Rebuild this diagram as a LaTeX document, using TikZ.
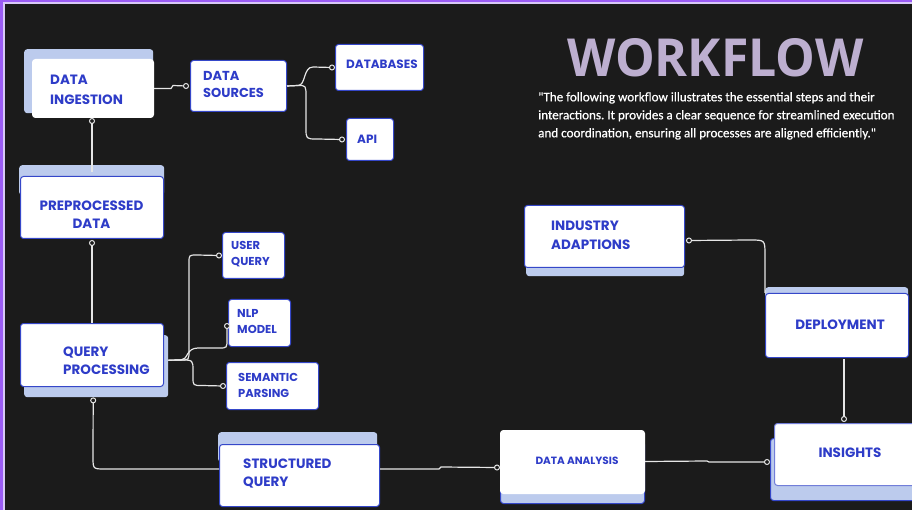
\documentclass[tikz,border=0pt]{standalone}
\usepackage{fontspec}
\usepackage{graphicx}
\usetikzlibrary{arrows.meta,calc}
\newfontfamily\boxfont{Poppins}
\newfontfamily\titlefont{Open Sans}[BoldFont={* Bold}]
\newfontfamily\parafont{Carlito}[FakeBold=0.6]
\frenchspacing
\definecolor{bg}{HTML}{1B1B1B}
\definecolor{frame}{HTML}{9B5CF5}
\definecolor{framelight}{HTML}{D8C8F8}
\definecolor{boxblue}{HTML}{3547C9}
\definecolor{txtblue}{HTML}{2E3CC8}
\definecolor{shade}{HTML}{BCCBED}
\definecolor{titlecol}{HTML}{BDAFD0}
\definecolor{wire}{HTML}{E6E6E6}
\tikzset{
  x=1pt, y=-1pt,
  front/.style={draw=boxblue, line width=1pt, fill=white, rounded corners=3pt, anchor=north west, inner sep=0pt},
  frontw/.style={draw=white, line width=1pt, fill=white, rounded corners=3pt, anchor=north west, inner sep=0pt},
  shadow/.style={fill=shade, rounded corners=3pt, anchor=north west, inner sep=0pt},
  shadowb/.style={fill=shade, draw=boxblue, line width=1pt, rounded corners=3pt, anchor=north west, inner sep=0pt},
  lbl/.style={anchor=west, align=left, text=txtblue, inner sep=0pt, font=\boxfont\bfseries\fontsize{13.5}{18.5}\selectfont},
  lblc/.style={anchor=center, align=center, text=txtblue, inner sep=0pt, font=\boxfont\bfseries\fontsize{13.5}{18.5}\selectfont},
  conn/.style={draw=wire, line width=1.2pt},
  dot/.style={circle, draw=wire, fill=bg, line width=1pt, minimum size=5pt, inner sep=0pt},
}
\begin{document}
\begin{tikzpicture}
\useasboundingbox (0,0) rectangle (912,510);
\fill[bg] (0,0) rectangle (912,510);
\fill[framelight] (0,0) rectangle (912,4.5);
\fill[framelight] (0,0) rectangle (5,510);
\fill[frame] (0,0) rectangle (912,2.5);
\fill[frame] (0,0) rectangle (3,510);

% title and paragraph
\node[anchor=north west, inner sep=0pt, text=titlecol] (title) at (567,38)
  {\resizebox{296pt}{38pt}{\titlefont\bfseries WORKFLOW}};
\node[anchor=north west, inner sep=0pt, align=left, text=white,
  font=\parafont\fontsize{13.1}{18}\selectfont] (para) at (538,92)
  {"The following workflow illustrates the essential steps and their\\
   interactions. It provides a clear sequence for streamlined execution\\
   and coordination, ensuring all processes are aligned efficiently."};

% DATA INGESTION
\node[shadow, minimum width=129pt, minimum height=64pt] (dis) at (24,49) {};
\node[frontw, minimum width=121pt, minimum height=58pt] (di) at (32,59) {};
\node[lbl, font=\boxfont\bfseries\fontsize{13.5}{19.5}\selectfont] (dit) at (50,90) {DATA\\INGESTION};

% DATA SOURCES
\node[front, minimum width=96pt, minimum height=51pt] (ds) at (190,60) {};
\node[lbl, font=\boxfont\bfseries\fontsize{13}{17}\selectfont] (dst) at (203,84.5) {DATA\\SOURCES};

% DATABASES
\node[front, minimum width=88pt, minimum height=46pt] (db) at (335,44) {};
\node[lbl, font=\boxfont\bfseries\fontsize{12}{16}\selectfont] (dbt) at (346,64) {DATABASES};

% API
\node[front, minimum width=47pt, minimum height=42pt] (api) at (346,118) {};
\node[lbl, font=\boxfont\bfseries\fontsize{12}{16}\selectfont] (apit) at (357,139) {API};

% PREPROCESSED DATA
\node[shadow, minimum width=145pt, minimum height=30pt] (pds) at (19,165) {};
\node[front, minimum width=143pt, minimum height=62pt] (pd) at (20,176) {};
\node[lblc, font=\boxfont\bfseries\fontsize{13.5}{18}\selectfont] (pdt) at (91.5,214.5) {PREPROCESSED\\DATA};

% QUERY PROCESSING
\node[shadow, minimum width=144pt, minimum height=62pt] (qps) at (24,335) {};
\node[front, minimum width=143pt, minimum height=63pt] (qp) at (20,323) {};
\node[lbl, font=\boxfont\bfseries\fontsize{13.5}{18}\selectfont] (qpt) at (63,361) {QUERY\\PROCESSING};

% USER QUERY
\node[front, minimum width=62pt, minimum height=46pt] (uq) at (222,232) {};
\node[lbl, font=\boxfont\bfseries\fontsize{11.5}{16}\selectfont] (uqt) at (231,254) {USER\\QUERY};

% NLP MODEL
\node[front, minimum width=62pt, minimum height=47pt] (nlp) at (228,299) {};
\node[lbl, font=\boxfont\bfseries\fontsize{11.5}{16}\selectfont] (nlpt) at (237,322) {NLP\\MODEL};

% SEMANTIC PARSING
\node[front, minimum width=92pt, minimum height=47pt] (sp) at (226,362) {};
\node[lbl, font=\boxfont\bfseries\fontsize{11.5}{16}\selectfont] (spt) at (238,385) {SEMANTIC\\PARSING};

% STRUCTURED QUERY
\node[shadow, minimum width=159pt, minimum height=30pt] (sqs) at (218,432) {};
\node[front, minimum width=160pt, minimum height=62pt] (sq) at (219,444) {};
\node[lbl, font=\boxfont\bfseries\fontsize{13.5}{18}\selectfont] (sqt) at (243,474) {STRUCTURED\\QUERY};

% DATA ANALYSIS
\node[shadowb, minimum width=144pt, minimum height=62pt] (das) at (500,441) {};
\node[frontw, minimum width=144pt, minimum height=63pt] (da) at (500,430) {};
\node[lblc, font=\boxfont\bfseries\fontsize{10.5}{14}\selectfont] (dat) at (577,461) {DATA ANALYSIS};

% INSIGHTS
\node[shadowb, minimum width=150pt, minimum height=62pt] (inss) at (770,438) {};
\node[front, draw=boxblue!70, minimum width=150pt, minimum height=62pt] (ins) at (774,423) {};
\node[lblc] (inst) at (850,453) {INSIGHTS};

% DEPLOYMENT
\node[shadow, minimum width=143pt, minimum height=30pt] (deps) at (765,287) {};
\node[front, minimum width=143pt, minimum height=64pt] (dep) at (765,293) {};
\node[lblc] (dept) at (840,325) {DEPLOYMENT};

% INDUSTRY ADAPTIONS
\node[shadow, minimum width=158pt, minimum height=62pt] (ias) at (526,214) {};
\node[front, minimum width=160pt, minimum height=62pt] (ia) at (524,205) {};
\node[lbl] (iat) at (551,235) {INDUSTRY\\ADAPTIONS};

% helper coordinates
\coordinate (qpo) at ($(qps.east)+(0,-6)$);
\coordinate (sqin) at ($(sq.north west)+(0,25)$);
\coordinate (sqout) at ($(sq.north east)+(0,25)$);
\coordinate (dain) at ($(da.west)+(-3,5.5)$);
\coordinate (daout) at ($(da.east)+(0,-0.5)$);
\coordinate (insin) at ($(inss.north west)+(-3,24)$);
\coordinate (iaout) at ($(ia.east)+(4,4)$);
\coordinate (depin) at (dep.north west);
\coordinate (depout) at (844,359);
\coordinate (insout) at (844,419);

% connectors
\draw[conn] (di.east) -- ++(17,0) -- ++(2,-3) -- ($(ds.west)+(-4,0)$) node[dot] (c1) {};
\draw[conn] (ds.east) -- (298,85.5) .. controls (306,85.5) and (303,67) .. (313,67) -- ($(db.west)+(-3,0)$) node[dot] (c2) {};
\draw[conn] (ds.east) -- (298,85.5) .. controls (306,85.5) .. (306,97) -- (306,128) .. controls (306,139) .. (317,139) -- ($(api.west)+(-4,0)$) node[dot] (c3) {};
\draw[conn] (pd.north |- di.south) ++(0,3) node[dot] (c4) {} -- ($(pd.north)+(0,-4)$);
\draw[conn] (pd.south) ++(0,4) node[dot] (c5) {} -- (qp.north);
\draw[conn] (qpo) -- (181,360) .. controls (189,360) .. (189,350) -- (189,263) .. controls (189,255) .. (197,255) -- ($(uq.west)+(-3,0)$) node[dot] (c6) {};
\draw[conn] (qpo) -- (181,360) .. controls (188,360) and (186,348) .. (198,348) -- (219,348) .. controls (227,348) .. (227,339) -- (227,326) node[dot] (c7) {};
\draw[conn] (qpo) -- (181,360) .. controls (193,360) .. (193,371) -- (193,377) .. controls (193,385.5) .. (202,385.5) -- ($(sp.west)+(-3,0)$) node[dot] (c8) {};
\draw[conn] ($(qps.south)+(-3,3)$) node[dot] (c9) {} -- (93,457) .. controls (93,469) .. (105,469) -- (sqin);
\draw[conn] (sqout) -- (439,469) -- (441,467) -- (dain) node[dot] (c10) {};
\draw[conn] (daout) -- (707,461) -- (709,462) -- (insin) node[dot] (c11) {};
\draw[conn] (iaout) node[dot] (c12) {} -- (750,240) .. controls (765,240) .. (765,255) -- (depin);
\draw[conn] (depout) -- (insout) node[dot] (c13) {};
\end{tikzpicture}
\end{document}
